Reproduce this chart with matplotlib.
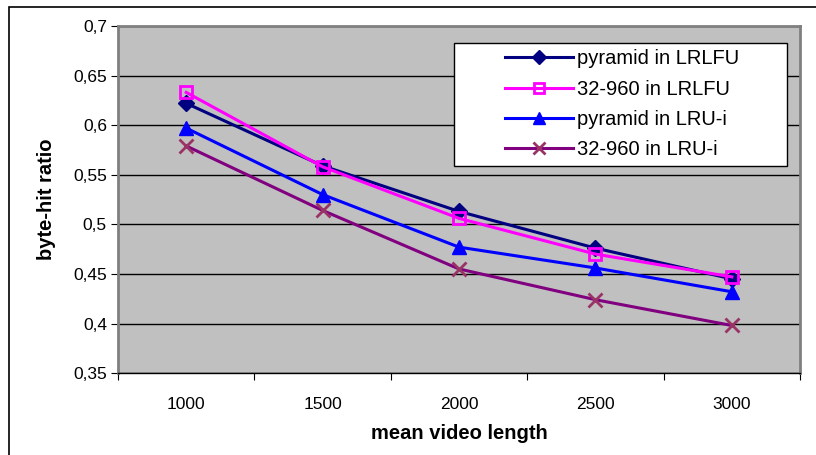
import matplotlib

matplotlib.use("Agg")
import matplotlib.pyplot as plt
from matplotlib.patches import Rectangle
from matplotlib.ticker import FixedLocator, FuncFormatter

plt.rcParams["font.family"] = ["Liberation Sans", "DejaVu Sans"]

categories = ["1000", "1500", "2000", "2500", "3000"]
pyramid_lrlfu = [0.622, 0.559, 0.513, 0.476, 0.445]
s32_960_lrlfu = [0.633, 0.558, 0.506, 0.470, 0.447]
pyramid_lrui = [0.597, 0.530, 0.477, 0.456, 0.432]
s32_960_lrui = [0.579, 0.514, 0.455, 0.424, 0.398]
y_ticks = [0.35, 0.4, 0.45, 0.5, 0.55, 0.6, 0.65, 0.7]

fig = plt.figure(figsize=(8.16, 4.55), dpi=100)
ax = fig.add_axes([0.1446, 0.180, 0.8358, 0.763])
ax.set_facecolor("#C0C0C0")

x = list(range(len(categories)))
ax.plot(x, pyramid_lrlfu, color="#000080", lw=2.2, marker="D", ms=8,
        mfc="#000080", mec="#000080", label="pyramid in LRLFU", zorder=4)
ax.plot(x, s32_960_lrlfu, color="#FF00FF", lw=2.2, marker="s", ms=9,
        mfc="none", mec="#FF00FF", mew=2.0, label="32-960 in LRLFU", zorder=5)
ax.plot(x, pyramid_lrui, color="#0000FF", lw=2.2, marker="^", ms=10,
        mfc="#0000FF", mec="#0000FF", label="pyramid in LRU-i", zorder=4)
ax.plot(x, s32_960_lrui, color="#800080", lw=2.2, marker="x", ms=10,
        mec="#993366", mew=2.0, label="32-960 in LRU-i", zorder=4)

ax.set_xlim(-0.5, len(categories) - 0.5)
ax.set_ylim(0.35, 0.7)
ax.yaxis.set_major_locator(FixedLocator(y_ticks))
ax.yaxis.set_major_formatter(FuncFormatter(lambda v, p: ("%g" % round(v, 2)).replace(".", ",")))
ax.grid(axis="y", color="black", lw=1.0, zorder=1)
ax.set_axisbelow(True)

ax.set_xticks([i - 0.5 for i in range(len(categories) + 1)])
ax.set_xticklabels([])
ax.set_xticks(x, minor=True)
ax.set_xticklabels(categories, minor=True)
ax.tick_params(axis="x", which="major", length=5, direction="out", color="black")
ax.tick_params(axis="x", which="minor", length=0, pad=17, labelsize=12.5)
ax.tick_params(axis="y", length=5, direction="out", labelsize=12.5, pad=3)

for side in ["top", "right", "left"]:
    ax.spines[side].set_color("#808080")
    ax.spines[side].set_linewidth(2.0)
ax.spines["bottom"].set_color("black")
ax.spines["bottom"].set_linewidth(1.0)

ax.set_xlabel("mean video length", fontsize=14.5, fontweight="bold", labelpad=9)
ax.set_ylabel("byte-hit ratio", fontsize=14.5, fontweight="bold", labelpad=12)

# legend frame drawn separately (Excel style: wide box, entries centred)
ax.add_patch(Rectangle((0.493, 0.597), 0.488, 0.354, transform=ax.transAxes,
                       facecolor="white", edgecolor="black", lw=1.0, zorder=6))
leg = ax.legend(loc="center", bbox_to_anchor=(0.739, 0.774), frameon=False,
                fontsize=14.5, handlelength=3.4, labelspacing=0.56,
                handletextpad=0.2, markerscale=0.85, borderaxespad=0)
leg.set_zorder(7)

# chart border (right and bottom edges fall outside the image)
fig.patches.append(Rectangle((9 / 816, -5 / 455), 820 / 816, 453 / 455, transform=fig.transFigure,
                             fill=False, edgecolor="black", lw=1.2))

fig.savefig("out.png", dpi=100)
